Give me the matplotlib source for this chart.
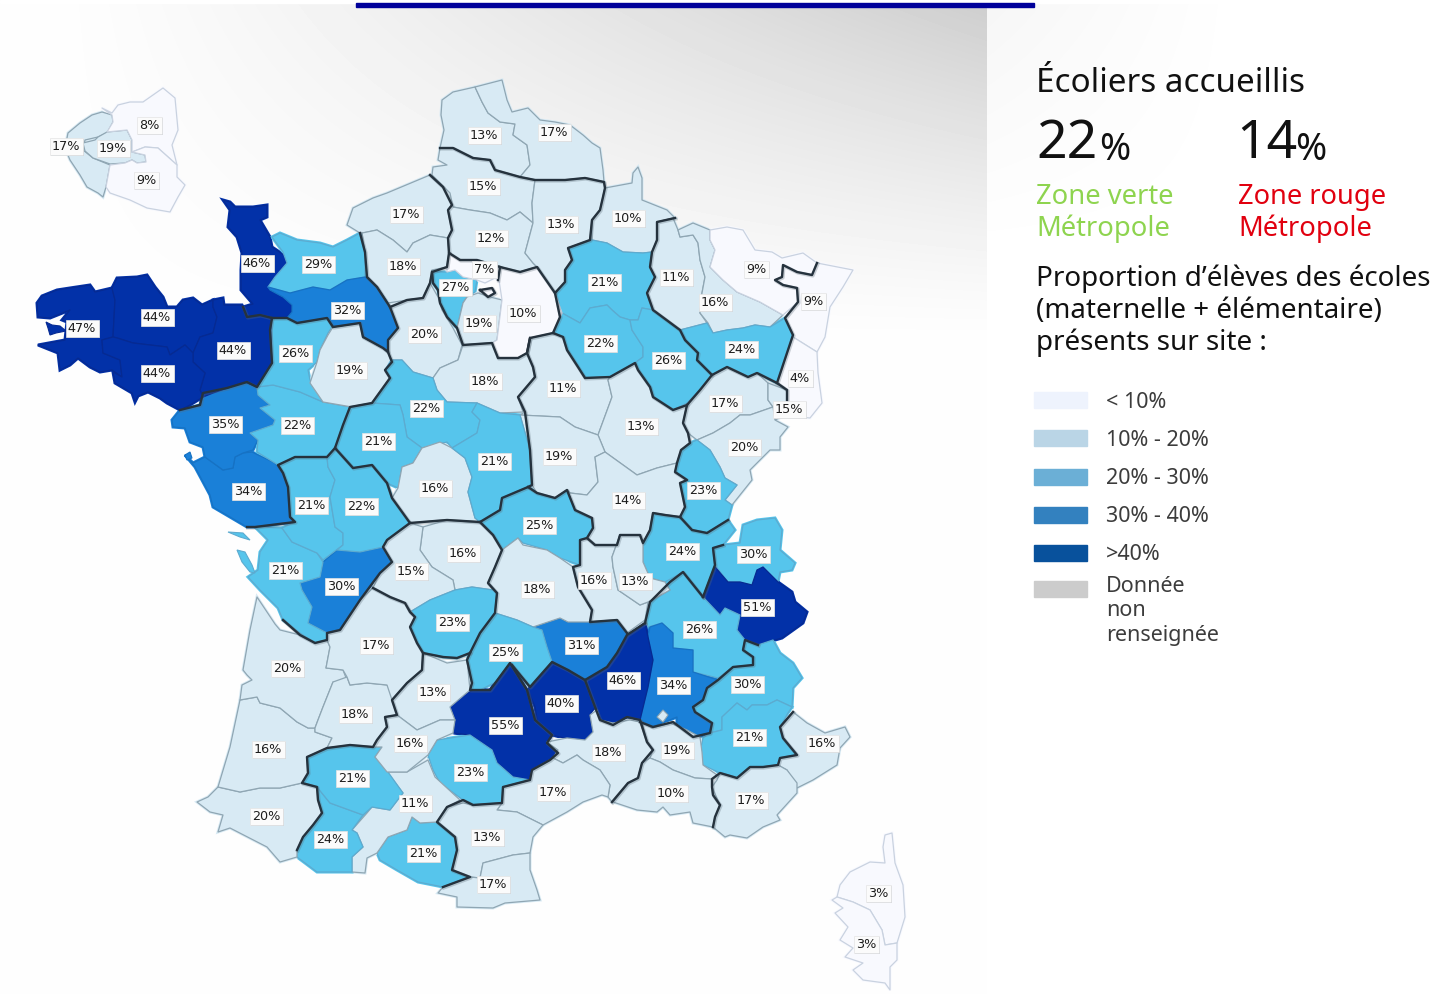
import numpy as np
import matplotlib
matplotlib.use("Agg")
import matplotlib.pyplot as plt
from matplotlib.patches import Polygon, Rectangle

# departments: name, shown value, colour class (0 = white ... 4 = dark blue)
names = ["Hauts-de-Seine", "Paris", "Seine-St-Denis", "Val-de-Marne",
         "Pas-de-Calais", "Nord", "Somme", "Seine-Mar", "Eure", "Oise", "Aisne", "Ardennes", "Marne", "Aube",
         "H-Marne", "Meuse", "M-et-M", "Moselle", "Bas-Rhin", "Haut-Rhin", "Vosges", "H-Saone", "Belfort",
         "Doubs", "Jura", "Yonne", "Cote-Or", "Nievre", "S-et-L", "Ain", "H-Savoie", "Savoie", "Isere", "Drome",
         "Ardeche", "H-Loire", "Loire", "Rhone", "Allier", "P-de-Dome", "Cantal", "Lozere", "Aveyron", "Tarn",
         "Gard", "Herault", "Aude", "P-Or", "Ariege", "H-Garonne", "H-Pyr", "Gers", "Pyr-Atl", "Landes",
         "Gironde", "L-et-G", "Charente", "Char-Mar", "Deux-Sevres", "Vienne", "Vendee", "Loire-Atl", "M-et-L",
         "Mayenne", "Sarthe", "Manche", "Calvados", "Orne", "E-et-L", "Yvelines", "Val-Oise", "Essonne",
         "S-et-M", "Loiret", "L-et-C", "I-et-L", "Indre", "Cher", "Creuse", "H-Vienne", "Correze", "Dordogne",
         "Lot", "T-et-G", "Finistere", "C-Armor", "I-et-V", "Morbihan", "H-Alpes", "AHP", "Alp-Mar", "Var",
         "Vaucluse", "BdR", "H-Corse", "C-du-Sud"]
values = [17, 19, 8, 9,
          13, 17, 15, 17, 18, 12, 13, 10, 21, 22,
          26, 11, 16, 9, 9, 4, 24, 17, 15,
          20, 23, 11, 13, 19, 14, 24, 30, 51, 26, 34,
          46, 31, 16, 13, 25, 18, 25, 40, 55, 23,
          18, 17, 13, 17, 21, 11, 24, 21, 20, 16,
          20, 18, 30, 21, 21, 22, 34, 35, 22,
          26, 19, 46, 29, 32, 20, 27, 7, 19,
          10, 18, 22, 21, 16, 21, 16, 15, 23, 17,
          13, 16, 47, 44, 44, 44, 30, 21, 16, 17,
          19, 10, 3, 3]
classes = [1, 1, 0, 0,
           1, 1, 1, 1, 1, 1, 1, 1, 2, 2,
           2, 1, 1, 0, 0, 0, 2, 1, 1,
           1, 2, 1, 1, 1, 1, 2, 2, 4, 2, 3,
           4, 3, 1, 1, 2, 1, 2, 4, 4, 2,
           1, 1, 1, 1, 2, 1, 2, 2, 1, 1,
           1, 1, 3, 2, 2, 2, 3, 3, 2,
           2, 1, 4, 2, 3, 1, 2, 0, 1,
           0, 1, 2, 2, 1, 2, 1, 1, 2, 1,
           1, 1, 4, 4, 4, 4, 2, 2, 1, 1,
           1, 1, 0, 0]
# label centres, same order
label_x = [66, 113, 149, 146,
           484, 554, 483, 406, 403, 491, 561, 628, 604, 600,
           668, 676, 715, 756, 813, 800, 741, 725, 789,
           744, 703, 563, 641, 559, 628, 682, 753, 757, 699, 673,
           623, 581, 594, 635, 539, 537, 505, 561, 505, 470,
           608, 553, 487, 493, 423, 415, 330, 352, 266, 268,
           287, 355, 341, 285, 311, 361, 248, 225, 297,
           295, 350, 257, 318, 347, 424, 455, 484, 479,
           523, 485, 426, 378, 435, 494, 463, 411, 452, 376,
           433, 410, 82, 157, 233, 157, 747, 749, 822, 751,
           677, 671, 878, 866]
label_y = [146, 148, 125, 180,
           135, 132, 186, 214, 266, 238, 224, 218, 282, 343,
           360, 277, 302, 269, 301, 378, 349, 403, 409,
           447, 490, 388, 426, 456, 500, 551, 554, 607, 629, 685,
           680, 645, 580, 581, 525, 589, 652, 703, 725, 772,
           752, 792, 837, 884, 853, 803, 839, 778, 816, 749,
           668, 714, 586, 570, 505, 506, 491, 424, 425,
           353, 370, 263, 264, 310, 334, 287, 269, 323,
           313, 381, 408, 441, 488, 461, 553, 571, 622, 645,
           692, 743, 328, 317, 350, 373, 684, 737, 743, 800,
           750, 793, 893, 944]

# outlines, in image pixels
outlines = {
    "Hauts-de-Seine": [(102,112),(112,115),(113,122),(107,133),(98,137),(85,140),(83,150),(93,158),(110,165),(106,187),(103,197),(98,193),(87,187),(80,175),(70,160),(65,148),(68,133),(80,123),(92,115)],
    "Paris": [(98,137),(107,132),(127,130),(132,140),(132,152),(145,155),(146,162),(137,163),(132,160),(125,163),(110,164),(93,158),(85,151),(83,143),(95,140)],
    "Seine-St-Denis": [(102,108),(112,113),(118,105),(130,102),(143,102),(163,88),(175,98),(178,130),(172,145),(177,165),(158,148),(145,147),(132,152),(132,140),(127,130),(107,132),(113,122),(112,115)],
    "Val-de-Marne": [(145,147),(158,148),(177,165),(177,177),(185,185),(178,197),(170,212),(147,208),(130,200),(110,193),(106,187),(110,165),(125,163),(132,160),(137,163),(146,162),(145,155),(132,152)],
    "Pas-de-Calais": [(442,100),(453,92),(475,87),(482,102),(488,113),(500,122),(515,124),(513,135),(527,145),(530,165),(520,177),(495,170),(490,160),(473,158),(453,148),(440,148),(444,130),(441,115)],
    "Nord": [(475,87),(502,80),(507,100),(512,112),(528,108),(540,120),(555,122),(570,125),(583,135),(592,143),(600,148),(603,170),(604,182),(585,178),(565,180),(535,180),(520,177),(530,165),(527,145),(513,135),(515,124),(500,122),(488,113),(482,102)],
    "Somme": [(440,148),(453,148),(473,158),(490,160),(495,170),(520,177),(535,180),(532,203),(533,223),(520,212),(507,220),(490,213),(470,210),(453,207),(450,193),(432,175),(433,167),(447,165),(438,160)],
    "Seine-Mar": [(430,175),(387,193),(373,198),(353,208),(347,225),(360,233),(363,233),(377,230),(393,240),(407,252),(413,243),(430,235),(448,238),(452,230),(448,210),(452,205),(443,187)],
    "Eure": [(362,233),(365,252),(367,277),(377,287),(390,307),(407,300),(423,298),(430,283),(432,270),(447,267),(449,253),(448,238),(430,235),(413,243),(407,252),(393,240),(377,230)],
    "Oise": [(453,207),(470,210),(490,213),(507,220),(520,212),(533,223),(525,253),(533,263),(537,267),(520,272),(500,267),(477,260),(460,260),(449,253),(448,238),(452,230),(448,210),(452,205)],
    "Aisne": [(535,180),(565,180),(585,178),(604,182),(605,188),(603,197),(600,210),(592,220),(590,240),(568,248),(572,260),(565,270),(565,282),(555,293),(537,267),(533,263),(525,253),(533,223),(532,203)],
    "Ardennes": [(605,188),(632,183),(633,173),(638,167),(642,178),(642,200),(667,210),(675,218),(657,222),(657,240),(652,252),(643,253),(623,252),(607,243),(592,240),(592,220),(600,210),(603,197)],
    "Marne": [(592,240),(607,243),(623,252),(643,253),(652,252),(650,267),(655,277),(647,293),(653,310),(642,308),(638,320),(630,320),(620,317),(612,310),(607,305),(590,308),(580,323),(562,313),(555,300),(555,293),(565,282),(565,270),(572,260),(568,248)],
    "Aube": [(562,313),(580,323),(590,308),(607,305),(612,310),(620,317),(630,320),(632,330),(643,347),(643,357),(635,363),(627,370),(610,377),(585,378),(578,367),(567,350),(563,337),(553,333),(560,317)],
    "H-Marne": [(653,310),(680,330),(685,340),(698,353),(697,360),(712,375),(700,390),(687,403),(673,410),(653,397),(650,387),(638,370),(635,363),(643,357),(643,347),(632,330),(630,320),(638,320),(642,308)],
    "Meuse": [(657,222),(673,218),(678,230),(680,237),(693,235),(698,243),(700,260),(705,277),(702,293),(700,313),(707,323),(680,330),(653,310),(647,293),(655,277),(650,267),(652,252),(657,240)],
    "M-et-M": [(678,230),(693,223),(710,230),(710,240),(715,250),(710,267),(723,280),(737,292),(760,302),(783,315),(770,327),(755,325),(743,328),(727,330),(713,333),(708,323),(700,313),(702,293),(705,277),(700,260),(698,243),(693,235),(680,237)],
    "Moselle": [(710,230),(727,227),(743,230),(755,250),(772,252),(782,258),(803,253),(817,263),(812,275),(797,272),(783,265),(782,277),(775,280),(783,285),(797,288),(798,302),(783,315),(760,302),(737,292),(723,280),(710,267),(715,250),(710,240)],
    "Bas-Rhin": [(783,265),(797,272),(812,275),(817,263),(853,270),(843,287),(830,307),(825,337),(817,352),(793,337),(785,318),(798,302),(797,288),(783,285),(775,280),(782,277)],
    "Haut-Rhin": [(793,337),(817,352),(818,373),(822,403),(810,418),(800,417),(786,412),(787,390),(777,383),(783,362)],
    "Vosges": [(680,330),(707,323),(713,333),(727,330),(743,328),(755,325),(770,327),(785,318),(793,335),(777,383),(757,373),(748,377),(727,367),(712,375),(697,360),(698,353),(685,340)],
    "H-Saone": [(712,375),(727,367),(748,377),(757,373),(768,383),(768,400),(773,407),(750,415),(740,415),(730,423),(713,433),(697,440),(688,433),(683,423),(687,405),(700,390)],
    "Belfort": [(768,383),(787,390),(787,400),(790,413),(775,420),(773,407),(768,400)],
    "Doubs": [(697,440),(713,433),(730,423),(740,415),(750,415),(773,407),(775,420),(788,427),(780,437),(780,450),(770,450),(750,470),(752,480),(732,505),(725,500),(737,485),(725,478),(720,467),(710,450)],
    "Jura": [(697,440),(710,450),(720,467),(725,478),(737,485),(725,500),(732,505),(728,520),(707,533),(692,530),(680,517),(685,507),(680,483),(687,480),(675,472),(677,463),(681,450),(690,443)],
    "Yonne": [(553,333),(563,337),(567,350),(578,367),(585,378),(610,377),(608,380),(612,397),(598,435),(575,427),(560,417),(520,415),(525,412),(518,397),(535,377),(533,367),(527,353),(530,338)],
    "Cote-Or": [(610,377),(635,363),(638,370),(650,387),(653,397),(673,410),(687,405),(683,423),(688,433),(690,443),(681,450),(677,463),(657,468),(637,475),(605,452),(598,435),(612,397),(608,380)],
    "Nievre": [(520,415),(560,417),(575,427),(598,435),(605,452),(595,457),(598,482),(587,495),(570,493),(567,490),(555,498),(537,493),(532,485),(530,450)],
    "S-et-L": [(605,452),(637,475),(657,468),(677,463),(675,472),(687,480),(680,483),(685,507),(680,517),(665,515),(653,513),(650,530),(643,543),(640,535),(620,535),(617,545),(595,545),(587,538),(593,528),(592,518),(575,510),(567,490),(570,493),(587,495),(598,482),(595,457)],
    "Ain": [(653,513),(680,517),(692,530),(707,533),(728,520),(735,530),(723,545),(713,548),(715,565),(703,597),(683,572),(672,582),(665,582),(650,578),(643,562),(643,543),(650,530)],
    "H-Savoie": [(713,550),(723,545),(740,543),(743,525),(757,520),(775,518),(782,530),(780,550),(795,563),(792,570),(780,572),(778,582),(763,567),(757,570),(752,585),(740,582),(728,582),(715,565)],
    "Savoie": [(715,567),(728,582),(740,582),(752,585),(757,570),(763,567),(778,582),(792,592),(795,602),(807,612),(803,623),(782,638),(758,645),(743,640),(737,630),(740,615),(725,608),(720,615),(703,597)],
    "Isere": [(683,572),(703,597),(720,615),(725,608),(740,615),(737,630),(745,640),(743,650),(753,657),(753,665),(733,667),(718,678),(693,672),(693,650),(673,648),(673,633),(662,623),(648,627),(645,620),(650,602),(670,590),(665,582)],
    "Drome": [(650,627),(662,623),(673,633),(673,648),(693,650),(693,672),(718,680),(707,688),(703,700),(693,707),(695,712),(712,723),(710,733),(698,738),(677,728),(677,717),(652,727),(640,720),(648,687),(653,660),(648,637)],
    "Ardeche": [(645,623),(648,637),(653,660),(648,687),(640,720),(627,717),(613,725),(600,720),(595,707),(585,682),(607,667),(617,653),(627,635)],
    "H-Loire": [(533,627),(560,618),(568,622),(590,622),(617,620),(627,633),(617,653),(607,667),(585,680),(568,670),(555,663),(550,660),(547,647),(542,630)],
    "Loire": [(587,538),(595,545),(617,545),(620,535),(612,557),(613,567),(618,590),(640,605),(648,602),(645,620),(627,633),(617,620),(590,622),(592,610),(578,587),(573,567),(580,565),(580,540)],
    "Rhone": [(620,535),(640,535),(643,543),(643,562),(650,578),(665,582),(670,590),(648,602),(640,605),(618,590),(613,567),(612,557)],
    "Allier": [(480,522),(500,510),(502,498),(528,487),(537,493),(555,498),(567,490),(575,510),(592,518),(593,528),(587,538),(580,540),(580,565),(560,558),(547,550),(523,543),(518,538),(502,550),(493,535),(480,527)],
    "P-de-Dome": [(502,550),(518,538),(523,545),(547,550),(560,558),(573,567),(578,587),(592,610),(590,622),(568,622),(560,618),(533,627),(517,620),(495,613),(497,593),(488,583),(495,567)],
    "Cantal": [(495,613),(517,620),(533,627),(542,630),(547,647),(552,662),(530,687),(512,665),(500,680),(480,690),(470,690),(472,683),(467,660),(470,653),(480,633),(493,615)],
    "Lozere": [(528,690),(552,662),(568,670),(585,680),(595,707),(590,715),(593,732),(585,740),(572,740),(552,735),(538,725),(535,707)],
    "Aveyron": [(450,707),(460,697),(473,690),(490,690),(510,663),(527,690),(535,720),(552,735),(547,743),(558,753),(550,760),(532,770),(530,780),(513,777),(497,763),(492,750),(470,735),(453,733),(455,720)],
    "Tarn": [(428,755),(437,740),(470,735),(492,750),(497,763),(513,777),(530,780),(503,787),(502,803),(473,805),(463,800),(440,783),(433,770)],
    "Gard": [(547,742),(567,738),(585,740),(593,732),(590,715),(597,710),(600,720),(613,723),(630,720),(640,722),(647,742),(653,750),(642,763),(638,778),(628,783),(612,802),(608,797),(610,785),(600,770),(583,760),(577,755),(563,763),(553,758),(558,750)],
    "Herault": [(503,787),(530,780),(532,770),(553,758),(563,763),(577,755),(583,760),(600,770),(610,785),(608,797),(602,795),(583,802),(567,812),(543,825),(517,812),(497,810),(502,803)],
    "Aude": [(437,822),(447,807),(463,803),(473,805),(502,803),(497,810),(517,812),(543,825),(533,837),(530,853),(513,855),(483,863),(480,878),(470,877),(452,870),(457,850),(455,837),(440,830)],
    "P-Or": [(470,877),(443,887),(438,893),(457,897),(457,907),(493,908),(505,903),(540,900),(537,890),(530,870),(530,853),(513,855),(483,863),(480,878)],
    "Ariege": [(377,853),(388,837),(407,830),(412,817),(420,823),(437,822),(455,837),(457,850),(452,870),(470,877),(443,887),(418,882),(397,870),(380,860)],
    "H-Garonne": [(352,830),(367,813),(372,807),(390,810),(403,793),(387,772),(407,772),(428,760),(435,777),(460,800),(447,807),(437,822),(420,823),(412,817),(407,830),(388,837),(377,853),(367,858),(365,873),(352,872),(352,857),(363,847),(357,833)],
    "H-Pyr": [(317,787),(330,803),(363,815),(352,830),(357,833),(363,847),(352,857),(352,872),(337,872),(317,872),(297,857),(297,850),(303,837),(313,825),(322,813),(318,800)],
    "Gers": [(302,783),(308,773),(307,757),(327,748),(350,745),(382,747),(375,757),(388,772),(403,793),(390,810),(372,807),(363,815),(330,803),(317,787)],
    "Pyr-Atl": [(197,802),(208,797),(218,787),(240,792),(260,788),(280,788),(302,783),(317,787),(318,800),(322,813),(313,825),(303,837),(297,850),(297,857),(280,862),(267,847),(230,828),(218,832),(223,815),(210,812)],
    "Landes": [(218,787),(230,747),(240,700),(257,697),(260,703),(280,708),(297,722),(308,728),(315,728),(315,732),(332,738),(327,748),(307,757),(308,773),(302,783),(280,788),(260,788),(240,792)],
    "Gironde": [(240,700),(242,685),(252,680),(247,675),(243,670),(250,630),(257,597),(275,624),(280,630),(300,635),(315,643),(327,640),(330,647),(326,668),(343,670),(348,683),(333,682),(323,707),(318,720),(315,728),(308,728),(297,722),(280,708),(260,703),(257,697)],
    "L-et-G": [(333,682),(347,677),(350,685),(367,683),(387,685),(397,695),(392,700),(397,715),(385,717),(387,727),(377,740),(373,747),(350,745),(327,748),(332,738),(315,732),(315,728),(318,720),(323,707)],
    "Charente": [(300,583),(320,577),(323,562),(337,550),(360,552),(383,547),(392,562),(380,573),(360,600),(340,630),(327,633),(308,623),(312,607),(302,590)],
    "Char-Mar": [(255,527),(282,528),(292,542),(317,553),(323,562),(320,577),(300,583),(302,590),(312,607),(308,623),(327,633),(327,640),(315,643),(300,633),(283,620),(278,608),(260,590),(248,577),(258,570),(260,552),(268,540)],
    "Deux-Sevres": [(278,465),(295,457),(327,457),(328,467),(335,480),(330,497),(335,527),(343,533),(343,545),(323,560),(317,553),(292,542),(282,528),(295,522),(290,517),(288,487),(283,473)],
    "Vienne": [(327,457),(335,448),(353,468),(372,465),(387,483),(392,498),(410,522),(387,540),(383,547),(360,552),(337,550),(343,545),(343,533),(335,527),(330,497),(335,480),(328,467)],
    "Vendee": [(185,455),(195,467),(210,495),(213,507),(247,527),(255,527),(295,522),(290,517),(288,487),(283,473),(275,463),(252,452),(243,453),(235,457),(233,468),(223,470),(205,457),(193,463)],
    "Loire-Atl": [(172,420),(180,410),(200,405),(203,393),(227,388),(247,382),(257,387),(258,395),(270,405),(260,408),(275,420),(273,425),(250,433),(258,440),(253,450),(243,453),(235,457),(233,468),(223,470),(205,457),(203,447),(190,442),(185,428),(173,427)],
    "M-et-L": [(257,387),(273,385),(300,392),(323,402),(350,407),(343,425),(338,448),(327,457),(295,457),(278,465),(275,463),(257,452),(258,440),(250,433),(273,425),(275,420),(260,408),(270,405),(258,395)],
    "Mayenne": [(272,318),(287,318),(297,323),(327,318),(332,327),(328,333),(320,350),(317,362),(308,370),(310,380),(318,390),(323,402),(300,392),(273,385),(257,387),(272,363)],
    "Sarthe": [(320,350),(328,335),(333,327),(360,323),(363,337),(383,348),(388,352),(392,362),(385,370),(390,378),(372,403),(352,407),(323,402),(310,383),(317,362)],
    "Manche": [(223,200),(230,202),(235,207),(253,207),(267,205),(267,217),(260,220),(270,237),(272,247),(287,257),(287,270),(277,278),(270,290),(283,297),(292,305),(292,312),(287,318),(272,318),(260,315),(247,317),(243,307),(253,304),(241,290),(241,270),(242,253),(237,237),(228,227),(230,210)],
    "Calvados": [(272,237),(280,233),(297,240),(320,243),(333,247),(347,240),(360,233),(365,252),(365,277),(347,280),(330,290),(313,287),(290,293),(268,287),(275,277),(287,263),(283,252)],
    "Orne": [(268,287),(290,293),(313,287),(330,290),(347,280),(365,277),(377,287),(388,303),(398,328),(388,340),(388,352),(383,348),(363,337),(360,323),(333,327),(327,318),(297,323),(287,318),(292,312),(292,305),(283,297),(270,290)],
    "E-et-L": [(388,303),(407,300),(423,298),(430,283),(438,297),(442,310),(453,328),(462,345),(458,360),(440,368),(433,378),(413,372),(402,360),(391,360),(388,352),(388,340),(398,328)],
    "Yvelines": [(432,272),(447,272),(455,270),(463,277),(477,280),(475,292),(467,297),(463,303),(457,328),(447,317),(440,303),(438,290),(433,283)],
    "Val-Oise": [(447,267),(449,253),(460,260),(477,260),(500,267),(498,280),(495,278),(485,283),(477,280),(463,277),(455,270),(447,272)],
    "Essonne": [(457,328),(463,303),(467,297),(478,293),(490,297),(502,300),(497,340),(492,343),(463,345)],
    "S-et-M": [(500,267),(520,272),(537,267),(555,293),(562,313),(553,333),(530,338),(527,353),(518,358),(498,358),(492,343),(497,340),(502,300),(499,280)],
    "Loiret": [(463,345),(492,343),(498,358),(518,358),(527,353),(533,367),(535,377),(518,397),(523,412),(500,413),(477,403),(447,402),(437,390),(433,378),(440,368),(458,360)],
    "L-et-C": [(391,360),(402,360),(413,372),(433,378),(437,390),(447,402),(477,403),(472,412),(480,420),(477,433),(452,448),(447,442),(422,448),(407,437),(403,415),(400,405),(372,403),(390,378),(385,370)],
    "I-et-L": [(350,407),(372,403),(400,405),(403,415),(407,437),(422,448),(413,463),(402,467),(398,488),(387,483),(372,465),(353,468),(335,448),(343,425)],
    "Indre": [(422,448),(440,442),(452,448),(465,458),(472,477),(468,492),(475,518),(480,522),(447,520),(410,523),(392,498),(398,488),(402,467),(413,463)],
    "Cher": [(452,448),(477,433),(480,420),(472,412),(477,403),(500,413),(520,415),(530,450),(532,485),(528,487),(502,498),(500,510),(480,522),(475,518),(468,492),(472,477),(465,458)],
    "Creuse": [(423,527),(447,520),(480,523),(493,535),(502,550),(495,567),(488,583),(493,590),(472,587),(455,590),(453,580),(432,567),(420,550)],
    "H-Vienne": [(387,540),(410,523),(423,527),(420,550),(432,567),(453,580),(455,590),(430,600),(410,612),(405,603),(390,597),(373,588),(380,573),(392,562),(383,547)],
    "Correze": [(410,612),(430,600),(455,590),(472,587),(493,590),(497,593),(495,613),(480,633),(470,653),(457,658),(443,657),(423,653),(417,643),(410,627),(415,617)],
    "Dordogne": [(340,630),(360,600),(373,588),(390,597),(405,603),(415,617),(410,627),(417,643),(423,653),(422,670),(407,683),(392,700),(387,685),(367,683),(350,685),(347,677),(343,670),(326,668),(330,647),(327,640),(327,633)],
    "Lot": [(423,653),(447,663),(467,660),(470,690),(450,707),(455,720),(440,720),(417,730),(397,715),(392,700),(407,683),(422,670)],
    "T-et-G": [(385,717),(397,715),(417,730),(440,720),(455,720),(453,733),(437,740),(428,755),(407,772),(387,772),(375,757),(382,747),(373,747),(377,740),(387,727)],
    "Finistere": [(37,303),(42,296),(57,290),(70,288),(90,285),(95,292),(112,288),(115,300),(113,337),(102,340),(103,353),(120,360),(122,377),(112,370),(100,372),(90,367),(78,358),(70,365),(60,370),(58,353),(38,345),(65,340),(67,322),(62,320),(70,310),(50,318),(38,317)],
    "C-Armor": [(112,288),(117,278),(137,277),(147,275),(155,287),(163,297),(167,307),(177,307),(183,300),(193,298),(202,305),(213,300),(213,307),(217,317),(213,333),(200,337),(193,353),(185,345),(170,355),(167,347),(150,345),(133,343),(117,338),(113,337),(115,300)],
    "I-et-V": [(213,300),(223,298),(224,305),(242,305),(243,307),(247,317),(260,315),(272,318),(270,330),(272,363),(257,387),(245,382),(213,393),(203,397),(200,390),(205,373),(193,362),(193,353),(200,337),(213,333),(217,317),(213,307)],
    "Morbihan": [(102,340),(113,337),(117,338),(133,343),(150,345),(167,347),(170,355),(185,345),(193,353),(193,362),(205,373),(200,390),(203,397),(190,405),(180,410),(167,403),(160,398),(148,392),(138,396),(135,402),(132,393),(115,383),(113,372),(122,377),(120,360),(103,353)],
    "H-Alpes": [(718,680),(733,667),(753,665),(753,657),(743,650),(745,640),(758,645),(773,640),(780,653),(793,663),(802,678),(793,688),(792,707),(777,700),(767,705),(752,705),(747,710),(737,703),(722,717),(722,730),(710,733),(712,723),(695,712),(693,707),(703,700),(707,688)],
    "AHP": [(792,707),(788,713),(780,727),(783,738),(797,755),(780,758),(778,765),(763,767),(750,767),(737,778),(720,773),(703,765),(700,752),(703,738),(710,733),(722,730),(722,717),(737,703),(747,710),(752,705),(767,705),(777,700)],
    "Alp-Mar": [(793,712),(807,723),(825,733),(845,727),(850,737),(840,748),(837,765),(813,780),(797,788),(787,770),(778,765),(780,758),(797,755),(783,738),(780,727)],
    "Var": [(720,773),(737,778),(750,767),(763,767),(778,765),(787,770),(797,783),(797,793),(777,815),(780,820),(763,827),(747,838),(730,835),(725,837),(713,827),(715,817),(720,805),(713,795),(712,787),(717,780)],
    "Vaucluse": [(642,722),(652,728),(670,723),(687,730),(700,737),(702,752),(703,765),(717,775),(712,779),(695,778),(673,770),(660,762),(650,758),(653,750),(647,742)],
    "BdR": [(650,758),(660,762),(673,770),(695,778),(712,779),(712,787),(720,805),(715,817),(713,827),(693,823),(690,812),(670,815),(663,807),(657,812),(637,810),(613,802),(628,783),(638,778),(642,763)],
    "H-Corse": [(885,835),(892,833),(895,863),(903,885),(905,917),(897,943),(885,945),(882,930),(870,910),(853,902),(837,897),(840,885),(850,872),(870,862),(885,863),(883,847)],
    "C-du-Sud": [(837,897),(832,900),(843,908),(835,913),(848,927),(840,940),(853,948),(845,957),(863,963),(853,970),(863,980),(885,983),(890,990),(890,967),(897,960),(897,943),(885,945),(882,930),(870,910),(853,902)],
}
# small bits that belong to no labelled department
islands = [
    ([(46,322),(52,325),(60,326),(66,331),(56,333),(50,335),(48,328)], 4),
    ([(237,550),(245,552),(252,565),(255,573),(250,572),(242,562)], 2),
    ([(228,532),(243,533),(250,540),(240,537)], 2),
    ([(185,455),(190,452),(192,458),(187,460)], 3),
    ([(657,717),(663,710),(668,715),(663,722)], 1),
    ([(480,290),(492,288),(495,293),(488,297)], 0),
]

# academy borders
thick_lines = [
    [(430,175),(443,187),(452,205),(448,210),(452,230),(448,238),(449,253),(460,260),(477,260),(500,267),(520,272),(537,267),(555,293),(565,282),(565,270),(572,260),(568,248),(590,240),(592,220),(600,210),(603,197),(605,188),(604,182),(585,178),(565,180),(535,180),(520,177),(495,170),(490,160),(473,158),(453,148),(440,148)],
    [(675,218),(657,222),(657,240),(652,252),(650,267),(655,277),(647,293),(653,310),(680,330),(685,340),(698,353),(697,360),(712,375),(700,390),(687,405),(673,410),(653,397),(650,387),(638,370),(635,363),(610,377),(585,378),(578,367),(567,350),(563,337),(553,333),(560,317),(555,293)],
    [(712,375),(727,367),(748,377),(757,373),(777,383),(787,390),(787,400)],
    [(817,263),(812,275),(797,272),(783,265),(782,277),(775,280),(783,285),(797,288),(798,302),(785,318),(793,335),(777,383)],
    [(553,333),(530,338),(527,353),(518,358),(498,358),(492,343),(463,345),(457,328),(447,317),(440,303),(438,290),(433,283),(432,272),(447,267),(449,253)],
    [(500,267),(498,280)],
    [(480,290),(492,288),(495,293),(488,297),(480,290)],
    [(530,338),(527,353),(533,367),(535,377),(518,397),(525,412),(530,450),(532,485),(528,487),(502,498),(500,510),(480,522),(447,520),(410,523),(392,498),(387,483),(372,465),(353,468),(335,448),(343,425),(350,407),(372,403),(390,378),(385,370),(392,362),(388,352)],
    [(360,233),(365,252),(367,277),(377,287),(390,307),(398,328),(388,340),(388,352),(383,348),(363,337),(360,323),(333,327),(327,318),(297,323),(287,318),(272,318),(260,315),(247,317),(243,307)],
    [(390,307),(407,300),(423,298),(430,283),(432,272)],
    [(272,318),(270,330),(272,363),(257,387),(247,382),(227,388),(203,393),(200,405),(180,410)],
    [(247,527),(255,527),(295,522),(290,517),(288,487),(283,473),(278,465),(295,457),(327,457),(335,448)],
    [(410,523),(387,540),(383,547),(392,562),(380,573),(360,600),(340,630),(327,633),(327,640),(315,643),(300,635),(283,620)],
    [(480,522),(493,535),(502,550),(495,567),(488,583),(497,593),(495,613),(480,633),(470,653),(457,658),(443,657),(423,653),(417,643),(410,627),(415,617),(410,612),(405,603),(390,597),(373,588)],
    [(423,653),(422,670),(407,683),(392,700),(397,715),(385,717),(387,727),(377,740),(373,747),(350,745),(327,748),(307,757),(308,773),(302,783),(317,787),(318,800),(322,813),(313,825),(303,837),(297,850)],
    [(470,653),(467,660),(472,683),(470,690),(490,690),(510,663),(527,690),(535,720),(552,735),(547,743),(558,753),(550,760),(532,770),(530,780),(503,787),(502,803),(473,805),(463,800),(447,807),(437,822),(455,837),(457,850),(452,870),(470,877),(443,887)],
    [(512,665),(530,687),(552,662),(568,670),(585,680),(607,667),(617,653),(627,635),(645,623)],
    [(585,680),(595,707),(600,720),(613,725),(627,717),(640,720),(647,742),(653,750),(642,763),(638,778),(628,783),(612,802)],
    [(640,722),(653,727),(673,722),(693,737),(710,733),(712,723),(695,712),(693,707),(703,700),(707,688),(718,680),(733,667),(753,665),(753,657),(743,650),(745,640),(758,645)],
    [(703,597),(715,565),(713,548),(723,545)],
    [(703,597),(683,572),(670,582),(650,602),(645,623)],
    [(687,405),(683,423),(688,433),(690,443),(681,450),(677,463),(675,472),(687,480),(680,483),(685,507),(680,517),(692,530),(707,533),(728,520)],
    [(680,517),(665,515),(653,513),(650,530),(643,543),(640,535),(620,535),(617,545),(595,545),(587,538),(593,528),(592,518),(575,510),(567,490),(555,498),(537,493),(528,487)],
    [(587,538),(580,540),(580,565),(573,567),(578,587),(592,610),(590,622),(617,620),(627,633)],
    [(793,712),(780,727),(783,738),(797,755),(780,758),(778,765),(763,767),(750,767),(737,778),(720,773),(712,779),(712,787),(713,795),(720,805),(715,817),(713,827)],
]

class_colors = ["#f8f9fe", "#d8eaf4", "#56c5ec", "#1a80d8", "#0231a8"]
class_edges = ["#c9d2e0", "#8fa6b3", "#5cabd0", "#1672c4", "#062a92"]

legend_labels = ["< 10%", "10% - 20%", "20% - 30%", "30% - 40%", ">40%", "Donnée\nnon\nrenseignée"]
legend_colors = ["#eef3fd", "#bad5e6", "#6bafd6", "#3381bf", "#08519c", "#cccccc"]
legend_y = [400, 438, 477, 515, 553, 589]
legend_text_y = [402, 440, 479, 517, 555, 586]

fig = plt.figure(figsize=(14.34, 9.94), dpi=100)
ax = fig.add_axes([0, 0, 1, 1])
ax.set_xlim(0, 1434)
ax.set_ylim(994, 0)
ax.axis("off")

# grey shadow behind the map
xx, yy = np.meshgrid(np.arange(1434), np.arange(994))
fx = np.clip((xx - 50) / 937, 0, 1) ** 1.2
fy = np.clip(1 - yy / 340, 0, 1) ** 1.2
bg = 0.995 - 0.19 * fx * fy
fx2 = np.clip(1 - (xx - 987) / 260, 0, 1)
fy2 = np.clip(1 - yy / 260, 0, 1)
bg = np.where(xx >= 987, 1 - 0.035 * fx2 * fy2, bg)
ax.imshow(bg, cmap="gray", vmin=0, vmax=1, extent=(0, 1434, 994, 0), aspect="auto", zorder=0)
ax.add_patch(Rectangle((0, 0), 1434, 3, color="white", zorder=1))
ax.add_patch(Rectangle((356, 3), 678, 4, color="#00009a", zorder=2))

# same fill a little wider underneath, closes the slivers between traced outlines
for name, cl in zip(names, classes):
    ax.add_patch(Polygon(outlines[name], closed=True, facecolor=class_colors[cl],
                         edgecolor=class_colors[cl], linewidth=2.2, zorder=2.5))
for name, cl in zip(names, classes):
    ax.add_patch(Polygon(outlines[name], closed=True, facecolor=class_colors[cl],
                         edgecolor=class_edges[cl], linewidth=0.9, joinstyle="round", zorder=3))
for pts, cl in islands:
    ax.add_patch(Polygon(pts, closed=True, facecolor=class_colors[cl],
                         edgecolor=class_edges[cl], linewidth=0.8, zorder=3))

for line in thick_lines:
    xs, ys = zip(*line)
    ax.plot(np.array(xs) + 0.8, np.array(ys) + 0.8, color="#5a6a75", alpha=0.3, linewidth=2.6,
            solid_joinstyle="round", zorder=3.5)
    ax.plot(xs, ys, color="#25323d", linewidth=1.7, solid_joinstyle="round", zorder=4)

for x, y, v in zip(label_x, label_y, values):
    w = 33 if v >= 10 else 25
    ax.add_patch(Rectangle((x - w / 2 + 1.5, y - 8.5 + 1.5), w, 17, facecolor="#7f8f9c", alpha=0.55,
                           edgecolor="none", zorder=5))
    ax.add_patch(Rectangle((x - w / 2, y - 8.5), w, 17, facecolor="#fbfbfb", edgecolor="#e4e4e4",
                           linewidth=0.5, zorder=6))
    ax.text(x, y + 0.3, f"{v}%", ha="center", va="center", fontsize=9.2, color="#1c1c1c", zorder=7)

# right panel
font = "Noto Sans"
ax.text(1036, 83, "Écoliers accueillis", fontsize=23.9, family=font, color="#111111", va="center")
ax.text(1036, 144, "22", fontsize=38.5, family=font, color="#111111", va="center")
ax.text(1099, 150, "%", fontsize=27, family=font, color="#111111", va="center")
ax.text(1236, 144, "14", fontsize=38.5, family=font, color="#111111", va="center")
ax.text(1295, 150, "%", fontsize=27, family=font, color="#111111", va="center")
ax.text(1036, 197, "Zone verte", fontsize=19.7, family=font, color="#8ed44f", va="center")
ax.text(1036, 229, "Métropole", fontsize=19.7, family=font, color="#8ed44f", va="center")
ax.text(1238, 197, "Zone rouge", fontsize=19.6, family=font, color="#e1000f", va="center")
ax.text(1238, 229, "Métropole", fontsize=19.7, family=font, color="#e1000f", va="center")
ax.text(1036, 279, "Proportion d’élèves des écoles", fontsize=20, family=font, color="#111111", va="center")
ax.text(1036, 311, "(maternelle + élémentaire)", fontsize=20, family=font, color="#111111", va="center")
ax.text(1036, 343, "présents sur site :", fontsize=20, family=font, color="#111111", va="center")

for lab, col, y, ty in zip(legend_labels, legend_colors, legend_y, legend_text_y):
    ax.add_patch(Rectangle((1034, y - 8), 53, 16, color=col, zorder=2))
    for i, part in enumerate(lab.split("\n")):
        ax.text(1106, ty + i * 25, part, fontsize=15.5, family=font, color="#3c3c3c", va="center", zorder=3)

fig.savefig("out.png", dpi=100)
